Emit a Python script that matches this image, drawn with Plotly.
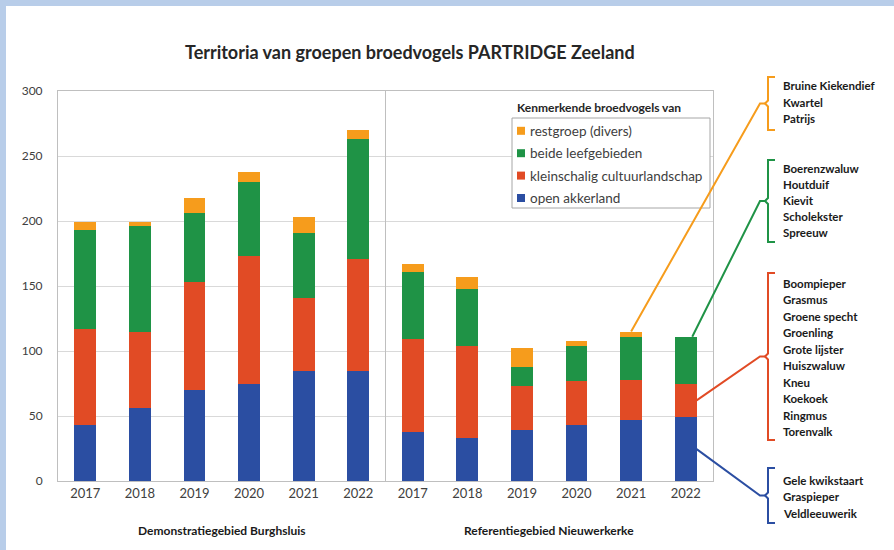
import plotly.graph_objects as go

# ---------------- data ----------------
groups = ["Demonstratiegebied Burghsluis", "Referentiegebied Nieuwerkerke"]
years = ["2017", "2018", "2019", "2020", "2021", "2022"]

open_akkerland = [43, 56, 70, 75, 85, 85, 38, 33, 39, 43, 47, 49]
kleinschalig = [74, 59, 83, 98, 56, 86, 71, 71, 34, 34, 31, 26]
beide = [76, 81, 53, 57, 50, 92, 52, 44, 15, 27, 33, 36]
restgroep = [6, 3, 12, 8, 12, 7, 6, 9, 14, 4, 4, 0]

series_names = ["open akkerland", "kleinschalig cultuurlandschap",
                "beide leefgebieden", "restgroep (divers)"]
series_colors = ["#2b4ea2", "#e14b25", "#1f9346", "#f69c1c"]
legend_title = "Kenmerkende broedvogels van"

birds_rest = ["Bruine Kiekendief", "Kwartel", "Patrijs"]
birds_beide = ["Boerenzwaluw", "Houtduif", "Kievit", "Scholekster", "Spreeuw"]
birds_klein = ["Boompieper", "Grasmus", "Groene specht", "Groenling", "Grote lijster",
               "Huiszwaluw", "Kneu", "Koekoek", "Ringmus", "Torenvalk"]
birds_open = ["Gele kwikstaart", "Graspieper", "Veldleeuwerik"]

y_ticks = [0, 50, 100, 150, 200, 250, 300]

# ---------------- layout geometry ----------------
W, H = 894, 550
L, R, T, B = 58, 181, 91, 69
PW, PH = W - L - R, H - T - B
YMAX = 300
FONT = "Lato, 'Open Sans', sans-serif"
n = len(years) * len(groups)
xpos = list(range(n))
ticktext = years * len(groups)
BARGAP = 0.6


def px_x(p):
    return (p - L) / PW


def px_y(p):
    return (H - B - p) / PH


def dx(v):  # data x -> paper
    return (v + 0.5) / n


def dy(v):  # data y -> paper
    return v / YMAX


fig = go.Figure()
values = [open_akkerland, kleinschalig, beide, restgroep]
for name, col, vals in zip(series_names, series_colors, values):
    fig.add_trace(go.Bar(x=xpos, y=vals, name=name, marker_color=col,
                         marker_line_width=0, showlegend=False))

shapes = []
annotations = []


def text(t, x, y, size, color="#262626", xanchor="left", bold=False):
    annotations.append(dict(text=("<b>%s</b>" % t) if bold else t, xref="paper", yref="paper",
                            x=x, y=y, xanchor=xanchor, yanchor="middle", showarrow=False,
                            borderpad=0,
                            font=dict(family=FONT, size=size, color=color)))


# light-blue frame
shapes.append(dict(type="rect", xref="paper", yref="paper", x0=px_x(0), x1=px_x(W),
                   y0=px_y(6), y1=px_y(0), fillcolor="#b8cde9", line_width=0, layer="below"))
shapes.append(dict(type="rect", xref="paper", yref="paper", x0=px_x(0), x1=px_x(6),
                   y0=px_y(H), y1=px_y(0), fillcolor="#b8cde9", line_width=0, layer="below"))

# divider between the two areas
shapes.append(dict(type="line", xref="x", yref="y", x0=len(years) - 0.5, x1=len(years) - 0.5,
                   y0=0, y1=YMAX, line=dict(color="#bfbfbf", width=1)))

# title
text("Territoria van groepen broedvogels PARTRIDGE Zeeland", px_x(410), px_y(52), 18,
     xanchor="center", bold=True)

# group labels
for gi, g in enumerate(groups):
    cx = dx(gi * len(years) + (len(years) - 1) / 2)
    text(g, cx, px_y(530), 12, color="#1a1a1a", xanchor="center", bold=True)

# legend (drawn like the reference: title above a bordered box)
text(legend_title, px_x(516), px_y(108), 12, bold=True)
shapes.append(dict(type="rect", xref="paper", yref="paper", x0=px_x(512), x1=px_x(710),
                   y0=px_y(208), y1=px_y(118), fillcolor="white",
                   line=dict(color="#a6a6a6", width=1)))
leg_y0, leg_step = 198, -22.4
for i, (name, col) in enumerate(zip(series_names, series_colors)):
    yc = leg_y0 + i * leg_step
    shapes.append(dict(type="rect", xref="paper", yref="paper", x0=px_x(517), x1=px_x(525),
                       y0=px_y(yc + 4), y1=px_y(yc - 4), fillcolor=col, line_width=0))
    text(name, px_x(529), px_y(yc), 13.5, color="#404040")

# brackets + connectors
cum1 = open_akkerland
cum2 = [a + b for a, b in zip(cum1, kleinschalig)]
cum3 = [a + b for a, b in zip(cum2, beide)]
cum4 = [a + b for a, b in zip(cum3, restgroep)]
half_bar = (1 - BARGAP) / 2
last = n - 1
target_rest = n - 2

brackets = [
    (birds_rest, series_colors[3], 77, 130, 85, 17.0, (dx(target_rest), dy(cum4[target_rest]))),
    (birds_beide, series_colors[2], 160, 242, 168, 16.2, (dx(last + 0.6 * half_bar), dy(cum3[last]))),
    (birds_klein, series_colors[1], 273, 440, 283, 16.5, (dx(last + half_bar), dy((cum1[last] + cum2[last]) / 2))),
    (birds_open, series_colors[0], 468, 523, 480, 16.5, (dx(last + half_bar), dy(cum1[last] / 2))),
]
bx, bx_end, notch = 768, 775, 765
for birds, col, top, bot, ty, step, (sx, sy) in brackets:
    mid = (top + bot) / 2
    path = ("M {a},{t} L {b},{t} L {b},{m1} L {c},{m} L {b},{m2} L {b},{bo} L {a},{bo}"
            .format(a=px_x(bx_end), b=px_x(bx), c=px_x(notch), t=px_y(top), bo=px_y(bot),
                    m=px_y(mid), m1=px_y(mid - 3), m2=px_y(mid + 3)))
    shapes.append(dict(type="path", xref="paper", yref="paper", path=path,
                       line=dict(color=col, width=2)))
    cpath = "M {x0},{y0} L {x1},{y1} L {x2},{y1}".format(
        x0=sx, y0=sy, x1=px_x(760), y1=px_y(mid), x2=px_x(notch))
    shapes.append(dict(type="path", xref="paper", yref="paper", path=cpath,
                       line=dict(color=col, width=2)))
    for i, b in enumerate(birds):
        text(b, px_x(782), px_y(ty + i * step), 11.5, color="#1a1a1a", bold=True)

fig.update_layout(
    width=W, height=H,
    margin=dict(l=L, r=R, t=T, b=B),
    barmode="stack", bargap=BARGAP,
    paper_bgcolor="white", plot_bgcolor="white",
    font=dict(family=FONT, size=12, color="#404040"),
    showlegend=False,
    xaxis=dict(range=[-0.5, n - 0.5], tickmode="array", tickvals=xpos, ticktext=ticktext,
               showgrid=False, showline=True, linecolor="#bfbfbf", mirror=True,
               ticks="", tickfont=dict(size=13, color="#404040"), zeroline=False),
    yaxis=dict(range=[0, YMAX], tickmode="array", tickvals=y_ticks, showgrid=True,
               gridcolor="#d9d9d9", showline=True, linecolor="#bfbfbf", mirror=True,
               ticks="", ticklabelstandoff=12, tickfont=dict(size=12, color="#404040"),
               zeroline=False),
    shapes=shapes, annotations=annotations,
)

fig.write_html("out.html", config={"displayModeBar": False},
               post_script="document.body.style.margin='0';")
